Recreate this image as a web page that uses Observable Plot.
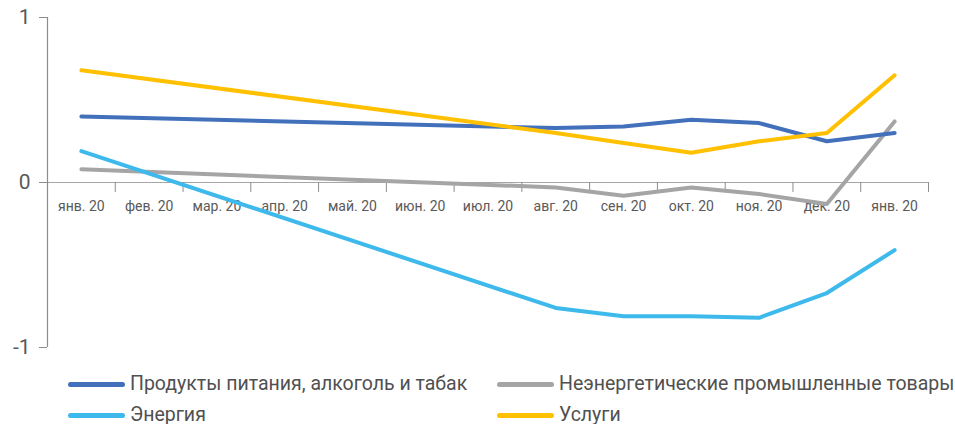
<!DOCTYPE html>
<html>
<head>
<meta charset="utf-8">
<script src="https://cdn.jsdelivr.net/npm/d3@7"></script>
<script src="https://cdn.jsdelivr.net/npm/@observablehq/plot@0.6"></script>
<style>
  body { margin: 0; background: #fff; font-family: Roboto, "Noto Sans", sans-serif; overflow: hidden; }
  #legend { position: relative; height: 59px; font-size: 19.5px; color: #505050; }
  .item { position: absolute; display: flex; align-items: center; white-space: nowrap; line-height: 24px; }
  .sw { width: 57px; height: 5px; border-radius: 3px; margin-right: 5px; }
</style>
</head>
<body>
<div id="chart"></div>
<div id="legend"></div>
<script>
const months = ["янв. 20","фев. 20","мар. 20","апр. 20","май. 20","июн. 20","июл. 20","авг. 20","сен. 20","окт. 20","ноя. 20","дек. 20","янв. 20"];
const seriesNames = ["Продукты питания, алкоголь и табак","Неэнергетические промышленные товары","Энергия","Услуги"];
const seriesColors = ["#4270BA","#A5A5A5","#3DB9EC","#FFC000"];
const food     = [0.40, null, null, null, null, null, null, 0.33, 0.34, 0.38, 0.36, 0.25, 0.30];
const nonEnergy= [0.08, null, null, null, null, null, null, -0.03, -0.08, -0.03, -0.07, -0.13, 0.37];
const energy   = [0.19, null, null, null, null, null, null, -0.76, -0.81, -0.81, -0.82, -0.67, -0.41];
const services = [0.68, null, null, null, null, null, null, 0.30, 0.24, 0.18, 0.25, 0.30, 0.65];
const yTicks = [-1, 0, 1];

const seriesValues = [food, nonEnergy, energy, services];
const rows = [];
seriesValues.forEach((vals, s) => vals.forEach((v, i) => { if (v != null) rows.push({s, i, v}); }));
const idx = months.map((_, i) => i);
const bounds = months.map((_, i) => i + 0.5);

const drawOrder = [1, 0, 3, 2];

const chart = Plot.plot({
  width: 955,
  height: 365,
  marginLeft: 47,
  marginRight: 27,
  marginTop: 17,
  marginBottom: 18,
  style: { fontFamily: "Roboto, sans-serif", color: "#595959", background: "#fff" },
  x: { type: "linear", domain: [-0.5, 12.5], axis: null },
  y: { domain: [-1, 1], axis: null },
  marks: [
    Plot.ruleY([0], { x1: -0.5, x2: 12.5, stroke: "#A6A6A6", strokeWidth: 1.2 }),
    Plot.ruleX([-0.5], { y1: -1, y2: 1, stroke: "#8C8C8C", strokeWidth: 1.2 }),
    Plot.ruleX(bounds, { x: d => d, y1: 0, y2: -0.06, stroke: "#8C8C8C", strokeWidth: 1 }),
    Plot.axisY({ ticks: yTicks, label: null, tickSize: 8, tickPadding: 9, fontSize: 21, stroke: "#8C8C8C", fill: "#595959", tickFormat: d => String(d) }),
    Plot.text(idx, { x: d => d, y: 0, dy: 24, text: d => months[d], fontSize: 14, fill: "#595959" }),
    ...drawOrder.map(s => Plot.line(rows.filter(r => r.s === s), {
      x: "i", y: "v", stroke: seriesColors[s], strokeWidth: 4, strokeLinecap: "round", strokeLinejoin: "round"
    }))
  ]
});
document.getElementById("chart").appendChild(chart);

const legend = document.getElementById("legend");
const pos = [[68, 7], [497, 7], [68, 38], [497, 38]];
const legendOrder = [0, 1, 2, 3];
legendOrder.forEach((s, k) => {
  const it = document.createElement("div");
  it.className = "item";
  it.style.left = pos[k][0] + "px";
  it.style.top = pos[k][1] + "px";
  it.innerHTML = `<span class="sw" style="background:${seriesColors[s]}"></span><span>${seriesNames[s]}</span>`;
  legend.appendChild(it);
});
</script>
</body>
</html>
